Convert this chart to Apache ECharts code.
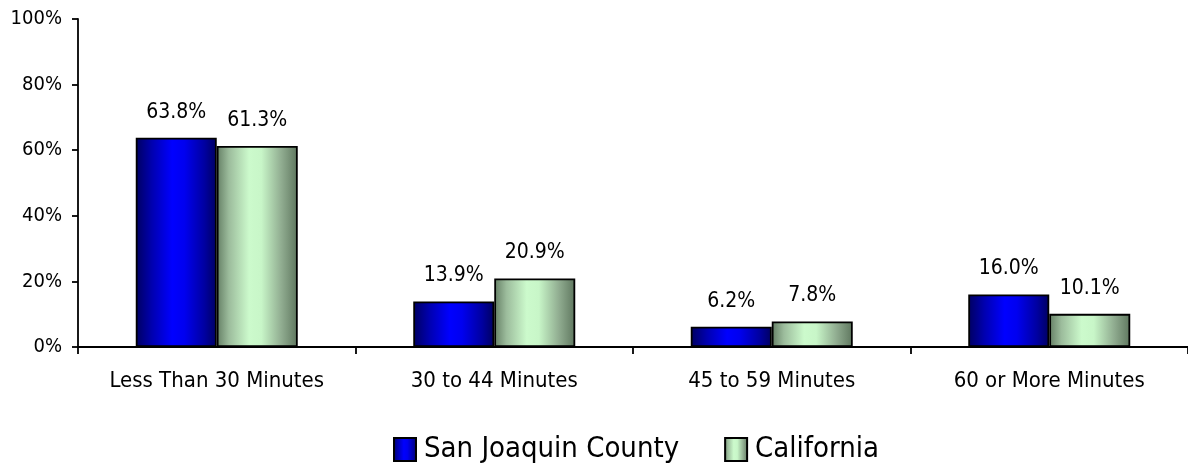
<!DOCTYPE html>
<html>
<head>
<meta charset="utf-8">
<script src="https://cdn.jsdelivr.net/npm/echarts@6/dist/echarts.min.js"></script>
<style>html,body{margin:0;padding:0;background:#fff;}#c{width:1188px;height:466px;}</style>
</head>
<body>
<div id="c"></div>
<script>
const categories = ['Less Than 30 Minutes', '30 to 44 Minutes', '45 to 59 Minutes', '60 or More Minutes'];
const sanJoaquin = [63.8, 13.9, 6.2, 16.0];
const california = [61.3, 20.9, 7.8, 10.1];
const yTicks = [0, 20, 40, 60, 80, 100];

const blueGrad = new echarts.graphic.LinearGradient(0, 0, 1, 0, [
  {offset: 0, color: '#000060'},
  {offset: 0.2, color: '#0000b0'},
  {offset: 0.45, color: '#0000ff'},
  {offset: 0.6, color: '#0000f0'},
  {offset: 0.85, color: '#0000a0'},
  {offset: 1, color: '#000060'}
]);
const greenGrad = new echarts.graphic.LinearGradient(0, 0, 1, 0, [
  {offset: 0, color: '#647e64'},
  {offset: 0.15, color: '#9cbc9c'},
  {offset: 0.4, color: '#ccfacc'},
  {offset: 0.55, color: '#c8f6c8'},
  {offset: 0.8, color: '#90ac90'},
  {offset: 1, color: '#5e765e'}
]);
const labelFont = 'DejaVu Sans Condensed, DejaVu Sans';
const chart = echarts.init(document.getElementById('c'));
const labelFmt = p => p.value.toFixed(1) + '%';
chart.setOption({
  animation: false,
  textStyle: {fontFamily: labelFont},
  grid: {left: 78, top: 19, width: 1120, bottom: 119, containLabel: false},
  legend: {
    left: 388, top: 430, itemGap: 45, itemWidth: 22, itemHeight: 23,
    textStyle: {fontFamily: 'Liberation Sans Narrow, DejaVu Sans Condensed', fontSize: 29, color: '#000', padding: [0, 0, 0, 3]},
    data: [{name: 'San Joaquin County', icon: 'rect'}, {name: 'California', icon: 'rect'}]
  },
  xAxis: {
    type: 'category', data: categories,
    axisLine: {lineStyle: {color: '#000', width: 1.8}},
    axisTick: {show: true, interval: 0, length: 7, lineStyle: {color: '#000', width: 1.8}},
    axisLabel: {interval: 0, hideOverlap: false, color: '#000', fontSize: 22, margin: 23, fontFamily: labelFont}
  },
  yAxis: {
    type: 'value', min: 0, max: 100, interval: 20,
    axisLine: {show: true, lineStyle: {color: '#000', width: 1.8}},
    axisTick: {show: true, length: 6, lineStyle: {color: '#000', width: 1.8}},
    splitLine: {show: false},
    axisLabel: {color: '#000', fontSize: 20, margin: 16, fontFamily: labelFont,
      formatter: v => yTicks.includes(v) ? v + '%' : ''}
  },
  series: [
    {name: 'San Joaquin County', type: 'bar', data: sanJoaquin, barWidth: 81, barGap: '0%',
      itemStyle: {color: blueGrad, borderColor: '#000', borderWidth: 1.8},
      label: {show: true, position: 'top', distance: 15, formatter: labelFmt, color: '#000', fontSize: 21, fontFamily: labelFont}},
    {name: 'California', type: 'bar', data: california, barWidth: 81,
      itemStyle: {color: greenGrad, borderColor: '#000', borderWidth: 1.8},
      label: {show: true, position: 'top', distance: 15, formatter: labelFmt, color: '#000', fontSize: 21, fontFamily: labelFont}}
  ]
});
</script>
</body>
</html>
